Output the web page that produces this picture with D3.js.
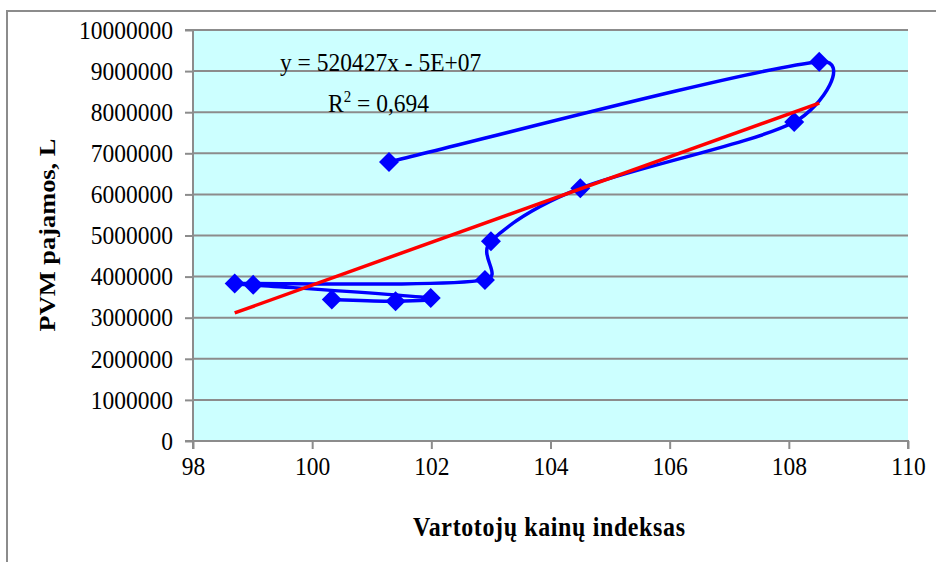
<!DOCTYPE html>
<html>
<head>
<meta charset="utf-8">
<script src="https://cdn.jsdelivr.net/npm/d3@7"></script>
<style>
  body { margin: 0; background: #fff; }
  svg text { font-family: "Liberation Serif", "Times New Roman", serif; fill: #000; }
</style>
</head>
<body>
<svg id="chart" width="936" height="562"></svg>
<script>
// Consumer price index vs. VAT revenue, in chronological order
const cpi        = [100.33, 101.40, 101.99, 99.01, 98.70, 102.90, 103.00, 104.50, 108.09, 108.51, 101.29];
const vatRevenue = [3440000, 3400000, 3480000, 3800000, 3830000, 3920000, 4860000, 6150000, 7760000, 9230000, 6790000];

const xTickValues = [98, 100, 102, 104, 106, 108, 110];
const yTickValues = [0, 1000000, 2000000, 3000000, 4000000, 5000000, 6000000, 7000000, 8000000, 9000000, 10000000];

// Linear trend line
const trendSlope = 520427;
const trendIntercept = -48250000;
const equationLabel = "y = 520427x - 5E+07";
const rSquaredLabel = "0,694";

const xTitle = "Vartotojų kainų indeksas";
const yTitle = "PVM pajamos, L";

const svg = d3.select("#chart");
const plot = { left: 193, right: 908, top: 30, bottom: 441 };
const stretch = 1.1;   // text is set slightly tall and narrow
const fontSize = 23.5;
const serif = '"Liberation Serif", "Times New Roman", serif';

const x = d3.scaleLinear().domain([98, 110]).range([plot.left, plot.right]);
const y = d3.scaleLinear().domain([0, 10000000]).range([plot.bottom, plot.top]);

const gray = "#8c8c8c";

// Smoothed line: cubic Bezier segments whose control arms follow the
// neighbouring points (1/6 of the chord) but never exceed half a segment.
function curveSmooth(context) {
  let pts = [];
  return {
    areaStart() {}, areaEnd() {},
    lineStart() { pts = []; },
    point(px, py) { pts.push([+px, +py]); },
    lineEnd() {
      const n = pts.length;
      if (!n) return;
      context.moveTo(pts[0][0], pts[0][1]);
      const arm = (a, b, limit) => {
        let dx = (b[0] - a[0]) / 6, dy = (b[1] - a[1]) / 6;
        const len = Math.hypot(dx, dy);
        if (len > limit && len > 0) { dx *= limit / len; dy *= limit / len; }
        return [dx, dy];
      };
      for (let i = 0; i < n - 1; i++) {
        const p0 = pts[Math.max(i - 1, 0)], p1 = pts[i], p2 = pts[i + 1], p3 = pts[Math.min(i + 2, n - 1)];
        const limit = Math.hypot(p2[0] - p1[0], p2[1] - p1[1]) / 2;
        const a = arm(p0, p2, limit), b = arm(p1, p3, limit);
        context.bezierCurveTo(p1[0] + a[0], p1[1] + a[1], p2[0] - b[0], p2[1] - b[1], p2[0], p2[1]);
      }
    }
  };
}

// outer chart frame
svg.append("path")
  .attr("d", "M7,562 V11 H936")
  .attr("fill", "none").attr("stroke", gray).attr("stroke-width", 2);

// plot background
svg.append("rect")
  .attr("x", plot.left).attr("y", plot.top)
  .attr("width", plot.right - plot.left).attr("height", plot.bottom - plot.top)
  .attr("fill", "#ccffff");

// horizontal gridlines
svg.append("g").selectAll("line")
  .data(yTickValues.filter(d => d > 0))
  .join("line")
  .attr("x1", plot.left).attr("x2", plot.right)
  .attr("y1", d => y(d)).attr("y2", d => y(d))
  .attr("stroke", gray).attr("stroke-width", 2);

// axes
const yAxis = svg.append("g")
  .attr("transform", `translate(${plot.left},0)`)
  .call(d3.axisLeft(y).tickValues(yTickValues).tickFormat(d3.format("d")).tickSize(8).tickPadding(12));
const xAxis = svg.append("g")
  .attr("transform", `translate(0,${plot.bottom})`)
  .call(d3.axisBottom(x).tickValues(xTickValues).tickFormat(d3.format("d")).tickSize(8).tickPadding(6));

[yAxis, xAxis].forEach(g => {
  g.attr("font-family", serif).attr("font-size", fontSize);
  g.select(".domain").attr("stroke", gray).attr("stroke-width", 2);
  g.selectAll(".tick line").attr("stroke", gray).attr("stroke-width", 2);
  g.selectAll(".tick text")
    .style("font-family", serif)
    .attr("font-size", fontSize).attr("fill", "#000")
    .attr("transform", `scale(1,${stretch})`);
});
yAxis.select(".domain").attr("d", `M-8,${plot.top}H0V${plot.bottom}H-8`);
xAxis.select(".domain").attr("d", `M${plot.left},8V0H${plot.right}V8`);

// smoothed data line
const points = cpi.map((c, i) => [c, vatRevenue[i]]);
svg.append("path")
  .datum(points)
  .attr("fill", "none")
  .attr("stroke", "#0000ff")
  .attr("stroke-width", 3.5)
  .attr("stroke-linejoin", "round")
  .attr("d", d3.line().x(d => x(d[0])).y(d => y(d[1])).curve(curveSmooth));

// diamond markers
svg.append("g").selectAll("path")
  .data(points)
  .join("path")
  .attr("transform", d => `translate(${x(d[0])},${y(d[1])}) rotate(45)`)
  .attr("d", d3.symbol(d3.symbolSquare, 200))
  .attr("fill", "#0000ff");

// trend line over the data range
const xMin = d3.min(cpi), xMax = d3.max(cpi);
svg.append("line")
  .attr("x1", x(xMin)).attr("y1", y(trendSlope * xMin + trendIntercept))
  .attr("x2", x(xMax)).attr("y2", y(trendSlope * xMax + trendIntercept))
  .attr("stroke", "#ff0000").attr("stroke-width", 3.5);

// regression labels
svg.append("g")
  .attr("transform", `translate(280,71) scale(1,${stretch})`)
  .append("text")
  .attr("font-size", fontSize)
  .text(equationLabel);
const r2 = svg.append("g")
  .attr("transform", `translate(328,112) scale(1,${stretch})`)
  .append("text")
  .attr("font-size", fontSize);
r2.append("tspan").text("R");
r2.append("tspan").attr("dy", -9).attr("font-size", 15).text("2");
r2.append("tspan").attr("dy", 9).text(" = " + rSquaredLabel);

// axis titles
svg.append("g")
  .attr("transform", `translate(549,536) scale(1,${stretch})`)
  .append("text")
  .attr("text-anchor", "middle")
  .attr("font-size", 24).attr("font-weight", "bold")
  .attr("textLength", 272).attr("lengthAdjust", "spacing")
  .text(xTitle);
svg.append("g")
  .attr("transform", `translate(55,235) rotate(-90) scale(${stretch},1)`)
  .append("text")
  .attr("text-anchor", "middle")
  .attr("font-size", 24).attr("font-weight", "bold")
  .text(yTitle);
</script>
</body>
</html>
